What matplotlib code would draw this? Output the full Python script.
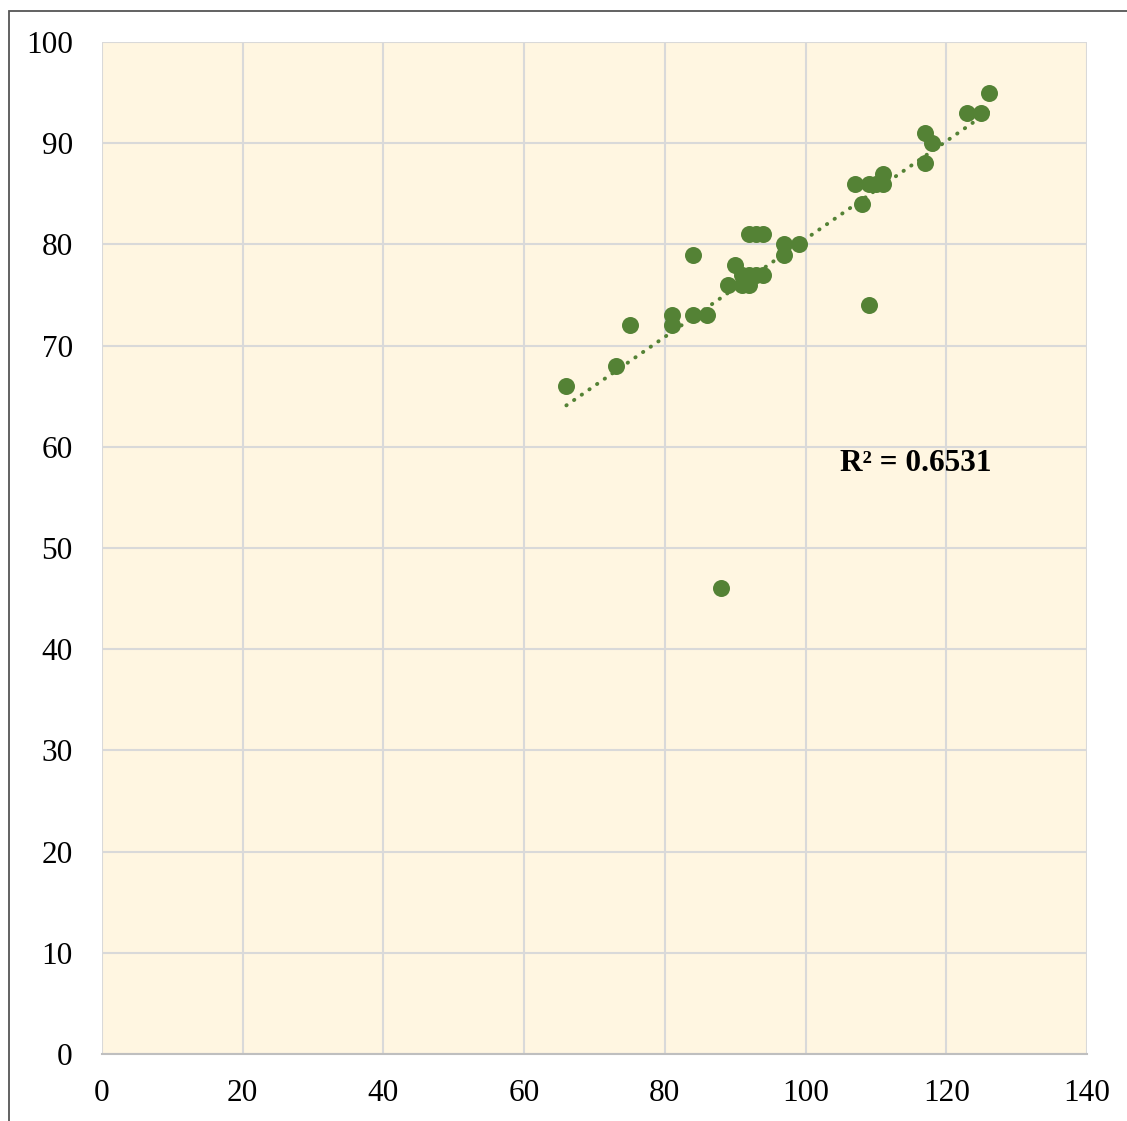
import matplotlib.pyplot as plt
import numpy as np
from matplotlib.patches import Rectangle

# values
x_vals = [66, 73, 75, 81, 81, 84, 84, 86, 88, 89, 90, 91, 91, 92, 92, 93, 94,
          92, 93, 94, 97, 97, 99, 107, 108, 109, 110, 111, 111, 109,
          117, 118, 117, 123, 125, 126]
y_vals = [66, 68, 72, 73, 72, 79, 73, 73, 46, 76, 78, 77, 76, 76, 77, 77, 77,
          81, 81, 81, 80, 79, 80, 86, 84, 86, 86, 86, 87, 74,
          91, 90, 88, 93, 93, 95]
r2_label = "R² = 0.6531"
x_ticks = [0, 20, 40, 60, 80, 100, 120, 140]
y_ticks = [0, 10, 20, 30, 40, 50, 60, 70, 80, 90, 100]

green = "#548235"

plt.rcParams['font.family'] = ['Liberation Serif', 'DejaVu Serif']

fig = plt.figure(figsize=(11.27, 11.21), dpi=100)
ax = fig.add_axes([102/1127, 1 - 1054/1121, 985/1127, 1012/1121])
ax.set_facecolor("#FFF6E1")

# outer chart border (right/bottom run off the picture)
fig.patches.append(Rectangle((9/1127, -0.05), 1.2, 1 - 11/1121 + 0.05,
                             transform=fig.transFigure, fill=False,
                             edgecolor="#555555", linewidth=1.3))

ax.scatter(x_vals, y_vals, s=150, color=green, zorder=3, linewidths=0)

xs = np.array(x_vals, dtype=float)
ys = np.array(y_vals, dtype=float)
m, b = np.polyfit(xs, ys, 1)
tx = np.array([xs.min(), xs.max()])
ax.plot(tx, m * tx + b, color=green, linewidth=2.8,
        linestyle=(0, (0.1, 2.3)), dash_capstyle='round', zorder=2)

ax.text(104.9, 57.6, r2_label, fontsize=22.5, fontweight='bold',
        color='black', va='baseline')

ax.set_xlim(0, 140)
ax.set_ylim(0, 100)
ax.set_xticks(x_ticks)
ax.set_yticks(y_ticks)
ax.grid(True, color="#D9D9D9", linewidth=1.5, zorder=0)
ax.set_axisbelow(True)
ax.tick_params(length=0, labelsize=22.5, colors='black')
ax.tick_params(axis='y', pad=21)
ax.tick_params(axis='x', pad=18)
for side in ['top', 'right', 'left']:
    ax.spines[side].set_visible(False)
ax.spines['bottom'].set_color("#BFBFBF")
ax.spines['bottom'].set_linewidth(1.5)

fig.savefig("out.png", dpi=100, facecolor='white')
